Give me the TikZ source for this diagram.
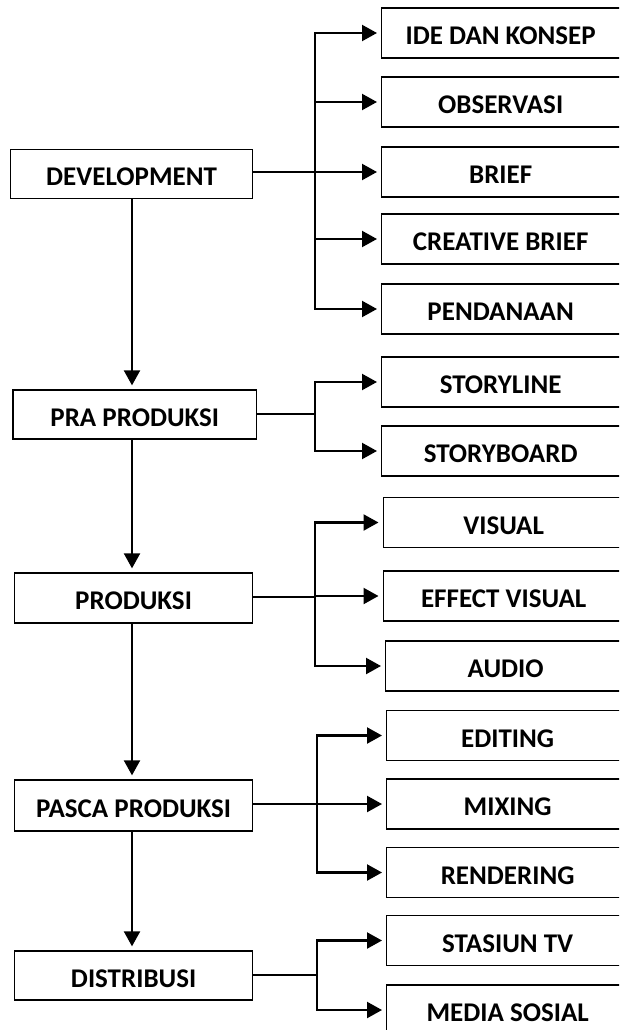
\documentclass[tikz,border=0pt]{standalone}
\usepackage{fontspec}
\setmainfont{Carlito}
\usetikzlibrary{arrows.meta}
\newcommand\rboxnode[5]{\node[rbox, anchor=west, minimum width={2*(#4-#2)+24}] (#1) at (#2,#3) {#5\hspace*{24pt}};}
\begin{document}
\begin{tikzpicture}[x=1pt,y=-1pt,
  boxbase/.style={draw, line width=1.3pt, inner sep=0pt, font=\fontsize{27}{31}\selectfont\bfseries, text height=23.5pt, text depth=0pt},
  lbox/.style={boxbase, minimum height=49pt},
  rbox/.style={boxbase, minimum height=50pt},
  conn/.style={line width=1.4pt},
  carr/.style={line width=2.2pt, -{Triangle[length=15pt,width=16pt]}, shorten >=4pt},
  varr/.style={line width=2.2pt, -{Triangle[length=15pt,width=16pt]}, shorten >=4pt}
]
\useasboundingbox (0,0) rectangle (619,1030);
\clip (0,0) rectangle (619,1030);

% left column
\node[lbox, minimum width=242pt] (dev) at (131.6,174) {DEVELOPMENT};
\node[lbox, minimum width=243.6pt] (pra) at (134.8,414.5) {PRA PRODUKSI};
\node[lbox, minimum width=238pt, minimum height=50pt] (prod) at (133.6,598) {PRODUKSI};
\node[lbox, minimum width=238pt, minimum height=51pt] (pasca) at (133.6,805.5) {PASCA PRODUKSI};
\node[lbox, minimum width=238pt] (dist) at (133.6,975.5) {DISTRIBUSI};

% right column
\rboxnode{ide}{381}{33}{500}{IDE DAN KONSEP}
\rboxnode{obs}{381}{102}{500}{OBSERVASI}
\rboxnode{brief}{381}{172}{500}{BRIEF}
\rboxnode{crea}{381}{239}{500}{CREATIVE BRIEF}
\rboxnode{pend}{381}{309}{500}{PENDANAAN}
\rboxnode{story}{381}{382}{500}{STORYLINE}
\rboxnode{board}{381}{451}{500}{STORYBOARD}
\rboxnode{vis}{382.5}{522.5}{503}{VISUAL}
\rboxnode{eff}{382.5}{596}{503}{EFFECT VISUAL}
\rboxnode{aud}{385}{666}{505}{AUDIO}
\rboxnode{edit}{386}{735.5}{507}{EDITING}
\rboxnode{mix}{386}{804}{507}{MIXING}
\rboxnode{rend}{386}{872.5}{507}{RENDERING}
\rboxnode{stas}{386}{940.5}{507}{STASIUN TV}
\rboxnode{med}{386}{1010}{507}{MEDIA SOSIAL}

% junctions
\coordinate (j1) at (315,172);
\coordinate (j2) at (315,414);
\coordinate (j3) at (315,597);
\coordinate (j4) at (317,804);
\coordinate (j5) at (317,975);

% parent to junction
\draw[conn] (dev.east |- j1) -- (j1);
\draw[conn] (pra.east |- j2) -- (j2);
\draw[conn] (prod.east |- j3) -- (j3);
\draw[conn] (pasca.east |- j4) -- (j4);
\draw[conn] (dist.east |- j5) -- (j5);

% junction to children
\foreach \c in {ide,obs,brief,crea,pend} \draw[carr] (j1) |- (\c.west);
\foreach \c in {story,board} \draw[carr] (j2) |- (\c.west);
\foreach \c in {vis,eff,aud} \draw[carr] (j3) |- (\c.west);
\foreach \c in {edit,mix,rend} \draw[carr] (j4) |- (\c.west);
\foreach \c in {stas,med} \draw[carr] (j5) |- (\c.west);

% main flow
\coordinate (d1) at (132,198.5);
\draw[varr] (dev.south -| d1) -- (d1 |- pra.north);
\draw[varr] (pra.south -| d1) -- (d1 |- prod.north);
\draw[varr] (prod.south -| d1) -- (d1 |- pasca.north);
\draw[varr] (pasca.south -| d1) -- (d1 |- dist.north);
\end{tikzpicture}
\end{document}
